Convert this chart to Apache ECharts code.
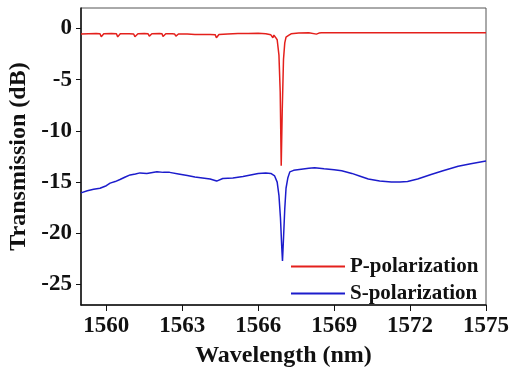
<!DOCTYPE html>
<html><head><meta charset="utf-8">
<script src="https://cdn.jsdelivr.net/npm/echarts@6/dist/echarts.min.js"></script>
<style>html,body{margin:0;padding:0;background:#fff}#c{width:516px;height:372px}</style>
</head><body><div id="c"></div>
<script>
const xTicks = [1560, 1563, 1566, 1569, 1572, 1575];
const yTicks = [0, -5, -10, -15, -20, -25];
const pWl = [1559.0,1559.3,1559.6,1559.75,1559.8,1559.9,1560.2,1560.4,1560.45,1560.55,1560.9,1561.08,1561.13,1561.25,1561.5,1561.65,1561.7,1561.8,1562.1,1562.2,1562.24,1562.35,1562.6,1562.7,1562.75,1562.85,1563.2,1563.5,1563.8,1564.1,1564.3,1564.35,1564.45,1564.8,1565.2,1565.6,1566.0,1566.3,1566.5,1566.58,1566.62,1566.68,1566.75,1566.82,1566.87,1566.91,1566.95,1567.0,1567.05,1567.1,1567.2,1567.3,1567.6,1568.0,1568.3,1568.4,1568.5,1569.0,1570.0,1571.0,1572.0,1573.0,1574.0,1575.0];
const pDb = [-0.55,-0.52,-0.5,-0.52,-0.8,-0.52,-0.5,-0.52,-0.82,-0.52,-0.52,-0.54,-0.8,-0.52,-0.5,-0.52,-0.75,-0.52,-0.5,-0.52,-0.78,-0.52,-0.52,-0.54,-0.75,-0.54,-0.55,-0.58,-0.58,-0.58,-0.6,-0.9,-0.58,-0.54,-0.5,-0.48,-0.47,-0.52,-0.62,-0.9,-0.65,-0.85,-1.1,-2.6,-6.2,-13.4,-8.0,-3.0,-1.4,-0.85,-0.68,-0.52,-0.45,-0.42,-0.55,-0.45,-0.42,-0.42,-0.42,-0.42,-0.42,-0.42,-0.42,-0.42];
const sWl = [1559.0,1559.25,1559.5,1559.75,1560.0,1560.15,1560.35,1560.54,1560.75,1560.94,1561.15,1561.33,1561.6,1562.0,1562.25,1562.5,1562.85,1563.2,1563.5,1563.8,1564.1,1564.36,1564.6,1565.0,1565.4,1565.7,1566.0,1566.3,1566.5,1566.65,1566.75,1566.82,1566.88,1566.93,1566.96,1567.0,1567.05,1567.1,1567.17,1567.25,1567.4,1567.7,1568.0,1568.23,1568.6,1569.0,1569.3,1569.7,1570.0,1570.35,1570.8,1571.26,1571.6,1571.9,1572.3,1572.83,1573.3,1573.9,1574.4,1575.0];
const sDb = [-16.05,-15.85,-15.7,-15.6,-15.35,-15.1,-14.95,-14.75,-14.5,-14.3,-14.2,-14.1,-14.15,-14.0,-14.05,-14.05,-14.2,-14.35,-14.5,-14.6,-14.7,-14.9,-14.65,-14.6,-14.45,-14.3,-14.15,-14.1,-14.15,-14.4,-15.0,-16.3,-18.5,-21.3,-22.7,-20.5,-17.6,-15.6,-14.6,-14.0,-13.85,-13.75,-13.65,-13.6,-13.7,-13.8,-13.9,-14.15,-14.4,-14.7,-14.9,-15.0,-15.0,-14.95,-14.7,-14.25,-13.9,-13.45,-13.2,-12.95];

const font = "'Liberation Serif','Times New Roman',serif";
const chart = echarts.init(document.getElementById('c'), null, {renderer:'canvas'});
chart.setOption({
  animation:false,
  grid:{left:81,right:30,top:8,bottom:67,show:true,borderColor:'#555',borderWidth:1,outerBoundsMode:'none'},
  legend:{
    orient:'vertical', left:286, top:251, itemWidth:54, itemHeight:2, itemGap:6, icon:'rect',
    textStyle:{fontFamily:font,fontWeight:'bold',fontSize:21,color:'#111'},
    data:['P-polarization','S-polarization']
  },
  xAxis:{
    type:'value', min:1559, max:1575,
    name:'Wavelength (nm)', nameLocation:'middle', nameGap:39,
    nameTextStyle:{fontFamily:font,fontWeight:'bold',fontSize:24,color:'#111'},
    axisLine:{onZero:false,lineStyle:{color:'#111',width:1.5}},
    axisTick:{show:true,inside:false,length:6,customValues:xTicks,lineStyle:{color:'#111'}},
    axisLabel:{customValues:xTicks,formatter:v=>String(v),margin:10,fontFamily:font,fontWeight:'bold',fontSize:23,color:'#111'},
    splitLine:{show:false}
  },
  yAxis:{
    type:'value', min:-27, max:2,
    name:'Transmission (dB)', nameLocation:'middle', nameGap:45, nameRotate:90,
    nameTextStyle:{fontFamily:font,fontWeight:'bold',fontSize:24,color:'#111'},
    axisLine:{show:true,onZero:false,lineStyle:{color:'#111',width:1.5}},
    axisTick:{show:true,inside:false,length:5,customValues:yTicks,lineStyle:{color:'#111'}},
    axisLabel:{customValues:yTicks,formatter:v=>String(v),margin:9,fontFamily:font,fontWeight:'bold',fontSize:23,color:'#111'},
    splitLine:{show:false}
  },
  series:[
    {name:'P-polarization',type:'line',symbol:'none',data:pWl.map((x,i)=>[x,pDb[i]]),
     lineStyle:{color:'#e4201c',width:1.5},itemStyle:{color:'#e4201c'}},
    {name:'S-polarization',type:'line',symbol:'none',data:sWl.map((x,i)=>[x,sDb[i]]),
     lineStyle:{color:'#1c1ccc',width:1.5},itemStyle:{color:'#1c1ccc'}}
  ]
});
</script></body></html>
